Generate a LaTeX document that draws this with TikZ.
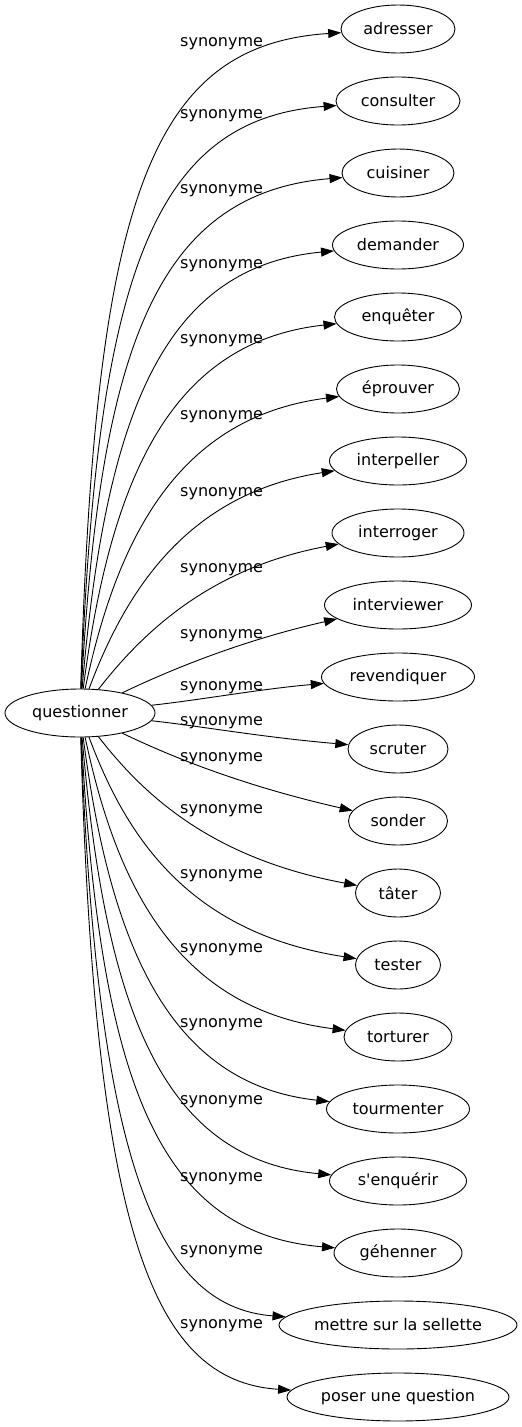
\documentclass[tikz,border=0pt]{standalone}
\usepackage{fontspec}
\newfontfamily\synfont{DejaVu Sans}
\usetikzlibrary{shapes.geometric,arrows.meta}

\begin{document}
\begin{tikzpicture}[x=1pt, y=-1pt,
	every node/.style={font=\synfont\fontsize{16}{19}\selectfont},
	word/.style={draw, ellipse, line width=0.9pt, inner sep=0pt, minimum height=48pt},
	synlabel/.style={anchor=base west, inner sep=0pt},
	syn/.style={-{Triangle[length=13pt, width=9pt]}, line width=0.9pt}]
	\useasboundingbox (0,0) rectangle (522,1427);
	\node[word, minimum width=150pt] (q) at (80,713) {questionner};
	\node[word, minimum width=114pt] (adresser) at (398,29) {adresser};
	\node[word, minimum width=124pt] (consulter) at (398,101) {consulter};
	\node[word, minimum width=112pt] (cuisiner) at (398,173) {cuisiner};
	\node[word, minimum width=131pt] (demander) at (398,245) {demander};
	\node[word, minimum width=127pt] (enqueter) at (398,317) {enquêter};
	\node[word, minimum width=123pt] (eprouver) at (398,389) {éprouver};
	\node[word, minimum width=137pt] (interpeller) at (398,461) {interpeller};
	\node[word, minimum width=132pt] (interroger) at (398,533) {interroger};
	\node[word, minimum width=147pt] (interviewer) at (398,605) {interviewer};
	\node[word, minimum width=153pt] (revendiquer) at (398,677) {revendiquer};
	\node[word, minimum width=100pt] (scruter) at (398,749) {scruter};
	\node[word, minimum width=99pt] (sonder) at (398,821) {sonder};
	\node[word, minimum width=85pt] (tater) at (398,893) {tâter};
	\node[word, minimum width=85pt] (tester) at (398,965) {tester};
	\node[word, minimum width=108pt] (torturer) at (398,1037) {torturer};
	\node[word, minimum width=143pt] (tourmenter) at (398,1109) {tourmenter};
	\node[word, minimum width=137pt] (senquerir) at (398,1181) {s'enquérir};
	\node[word, minimum width=128pt] (gehenner) at (398,1253) {géhenner};
	\node[word, minimum width=238pt] (sellette) at (398,1325) {mettre sur la sellette};
	\node[word, minimum width=222pt] (question) at (398,1397) {poser une question};
	\draw[syn] (q) .. controls (95,200) and (150,45) .. (adresser);
	\draw[syn] (q) .. controls (97,278) and (152,119) .. (consulter);
	\draw[syn] (q) .. controls (100,351) and (155,193) .. (cuisiner);
	\draw[syn] (q) .. controls (105,421) and (160,267) .. (demander);
	\draw[syn] (q) .. controls (110,483) and (168,342) .. (enqueter);
	\draw[syn] (q) .. controls (117,538) and (178,417) .. (eprouver);
	\draw[syn] (q) .. controls (127,587) and (190,493) .. (interpeller);
	\draw[syn] (q) .. controls (143,632) and (210,568) .. (interroger);
	\draw[syn] (q) .. controls (170,670) and (240,641) .. (interviewer);
	\draw[syn] (q) .. controls (200,700) and (260,689) .. (revendiquer);
	\draw[syn] (q) .. controls (200,726) and (260,737) .. (scruter);
	\draw[syn] (q) .. controls (170,756) and (240,785) .. (sonder);
	\draw[syn] (q) .. controls (143,794) and (210,858) .. (tater);
	\draw[syn] (q) .. controls (127,839) and (190,933) .. (tester);
	\draw[syn] (q) .. controls (117,888) and (178,1009) .. (torturer);
	\draw[syn] (q) .. controls (110,943) and (168,1084) .. (tourmenter);
	\draw[syn] (q) .. controls (105,1005) and (160,1159) .. (senquerir);
	\draw[syn] (q) .. controls (100,1075) and (155,1233) .. (gehenner);
	\draw[syn] (q) .. controls (97,1148) and (152,1307) .. (sellette);
	\draw[syn] (q) .. controls (95,1226) and (150,1381) .. (question);
	\node[synlabel] (l1) at (180,46) {synonyme};
	\node[synlabel] (l2) at (180,118) {synonyme};
	\node[synlabel] (l3) at (180,193) {synonyme};
	\node[synlabel] (l4) at (180,268) {synonyme};
	\node[synlabel] (l5) at (180,343) {synonyme};
	\node[synlabel] (l6) at (180,419) {synonyme};
	\node[synlabel] (l7) at (180,496) {synonyme};
	\node[synlabel] (l8) at (180,572) {synonyme};
	\node[synlabel] (l9) at (180,638) {synonyme};
	\node[synlabel] (l10) at (180,690) {synonyme};
	\node[synlabel] (l11) at (180,725) {synonyme};
	\node[synlabel] (l12) at (180,761) {synonyme};
	\node[synlabel] (l13) at (180,813) {synonyme};
	\node[synlabel] (l14) at (180,878) {synonyme};
	\node[synlabel] (l15) at (180,952) {synonyme};
	\node[synlabel] (l16) at (180,1027) {synonyme};
	\node[synlabel] (l17) at (180,1104) {synonyme};
	\node[synlabel] (l18) at (180,1181) {synonyme};
	\node[synlabel] (l19) at (180,1254) {synonyme};
	\node[synlabel] (l20) at (180,1328) {synonyme};
\end{tikzpicture}
\end{document}
